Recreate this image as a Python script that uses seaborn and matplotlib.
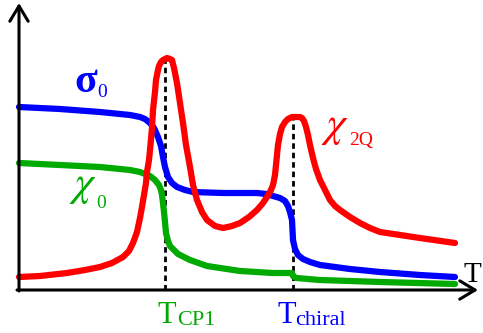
import numpy as np
import matplotlib
matplotlib.use('Agg')
import matplotlib.pyplot as plt
import seaborn as sns

# dados (T em unidades arbitrárias, valores acima do eixo)
t_sigma = [0, 41, 81, 111, 121, 126, 131, 135, 139, 142, 144, 146, 149, 153, 158, 166, 174, 204, 238,
           247, 254, 261, 266, 269, 271, 273, 274, 276, 279, 284, 291, 301, 331, 361, 401, 436]
v_sigma = [183, 181, 178, 175, 173, 171, 167, 162, 153, 144, 133, 123, 113, 107, 103, 100, 98, 97, 97,
           96, 94, 92, 89, 84, 78, 70, 50, 41, 35, 31, 28, 25, 21, 18, 15, 13]

t_chi0 = [0, 41, 81, 111, 121, 126, 131, 136, 140, 142, 143, 144, 145, 146, 147, 149, 151, 155, 159,
          165, 171, 188, 221, 254, 273, 274, 277, 301, 361, 436]
v_chi0 = [127, 125, 123, 120, 118, 116, 114, 110, 105, 100, 95, 87, 78, 68, 57, 49, 44, 40, 36,
          33, 30, 24, 19, 17, 17, 14, 12, 10, 8, 6]

t_chi2q = [0, 21, 48, 66, 81, 93, 104, 110, 114, 118, 121, 123, 125, 127, 128, 130, 131, 133, 134, 136,
           137, 139, 140, 142, 144, 148, 151, 153, 155, 158, 161, 164, 167, 171, 174, 178, 183, 188, 196,
           204, 213, 221, 230, 238, 244, 248, 252, 254, 256, 257, 258, 259, 261, 263, 266, 269, 273, 277,
           281, 283, 285, 287, 289, 291, 294, 297, 301, 306, 311, 316, 321, 331, 341, 351, 361, 401, 436]
v_chi2q = [13, 14, 17, 20, 23, 27, 33, 39, 47, 58, 72, 83, 95, 107, 118, 130, 140, 162, 180, 198,
           210, 220, 224, 228, 230, 232, 231, 230, 222, 207, 187, 167, 145, 123, 105, 90, 78, 70, 64,
           62, 64, 67, 73, 80, 87, 93, 100, 105, 115, 125, 135, 145, 156, 163, 168, 171, 173, 173,
           173, 172, 169, 163, 155, 145, 132, 121, 110, 100, 90, 84, 80, 73, 67, 62, 58, 52, 47]

# transições (linhas tracejadas)
t_trans = [146, 274]
v_trans = [230, 173]
rotulos_trans = [('T', 'CP1'), ('T', 'chiral')]

AZUL = '#0000FF'
VERDE = '#00AA00'
VERMELHO = '#FF0000'

sns.set_style('white')
plt.rcParams['font.family'] = ['Liberation Serif', 'DejaVu Serif']
plt.rcParams['mathtext.fontset'] = 'stix'

fig = plt.figure(figsize=(4.83, 3.33), dpi=100)
ax = fig.add_axes([0, 0, 1, 1])
ax.set_xlim(-19, 464)
ax.set_ylim(-43, 290)
ax.axis('off')

# linhas tracejadas das transições
for t, v in zip(t_trans, v_trans):
    ax.plot([t, t], [0, v], color='black', lw=2.0, ls=(0, (2.0, 1.4)), zorder=1)

# curvas
for t, v, cor in [(t_chi0, v_chi0, VERDE), (t_sigma, v_sigma, AZUL), (t_chi2q, v_chi2q, VERMELHO)]:
    sns.lineplot(x=t, y=v, color=cor, lw=4.5, sort=False, estimator=None, ax=ax,
                 solid_capstyle='round', solid_joinstyle='round', zorder=3)

# eixos com setas
seta = dict(arrowstyle='->,head_length=0.55,head_width=0.33', color='black', lw=2.2,
            mutation_scale=20, shrinkA=0, shrinkB=0)
ax.annotate('', xy=(0, 287), xytext=(0, -1), arrowprops=seta, zorder=5)
ax.annotate('', xy=(459, 0), xytext=(-2, 0), arrowprops=seta, zorder=5)

# rótulos das curvas
ax.text(55, 198, 'σ', color=AZUL, fontsize=30, fontweight='bold', ha='left', va='baseline')
ax.text(78, 193, '0', color=AZUL, fontsize=14, ha='left', va='baseline')
ax.text(50, 95, r'$\chi$', color=VERDE, fontsize=31, ha='left', va='baseline')
ax.text(77, 82, '0', color=VERDE, fontsize=14, ha='left', va='baseline')
ax.text(302, 154, r'$\chi$', color=VERMELHO, fontsize=31, ha='left', va='baseline')
ax.text(330, 145, '2Q', color=VERMELHO, fontsize=14, ha='left', va='baseline')

# rótulos das transições
pos_base = [139, 258]
pos_sub = [158, 276]
cores_trans = [VERDE, AZUL]
for xb, xs, (base, sub), cor in zip(pos_base, pos_sub, rotulos_trans, cores_trans):
    ax.text(xb, -33, base, color=cor, fontsize=22, ha='left', va='baseline')
    ax.text(xs, -35, sub, color=cor, fontsize=16, ha='left', va='baseline')

ax.text(445, 8, 'T', color='black', fontsize=21, ha='left', va='baseline')

fig.savefig('out.png', dpi=100)
